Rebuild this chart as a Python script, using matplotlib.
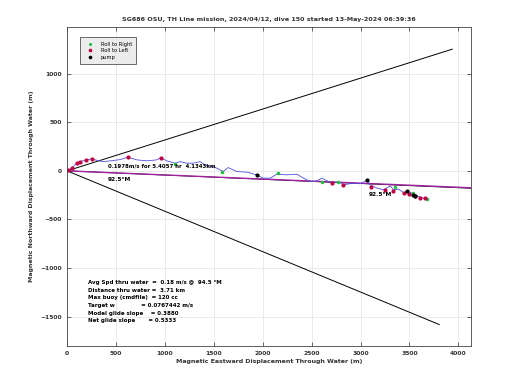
import numpy as np
import matplotlib
matplotlib.use("Agg")
import matplotlib.pyplot as plt

# track through water (m)
track_x = [3, 48, 99, 133, 194, 253, 286, 368, 470, 542, 621, 713, 815, 917, 958, 1019,
           1104, 1155, 1224, 1288, 1360, 1411, 1531, 1595, 1646, 1735, 1837, 1940, 2004,
           2076, 2144, 2246, 2349, 2416, 2485, 2553, 2604, 2672, 2723, 2774, 2825, 2927,
           2996, 3064, 3098, 3167, 3234, 3303, 3336, 3388, 3439, 3490, 3558, 3609, 3694]
track_y = [3, 28, 79, 95, 113, 123, 113, 95, 106, 116, 141, 113, 103, 113, 136, 103,
           79, 95, 79, 79, 95, 62, 28, -7, 34, -7, -13, -41, -75,
           -75, -34, -41, -34, -75, -110, -103, -75, -110, -126, -110, -144, -126,
           -133, -99, -144, -177, -195, -154, -195, -188, -223, -212, -246, -270, -297]

right_x = [1104, 1582, 2161, 2604, 2771, 3354, 3541, 3678]
right_y = [69, -7, -24, -110, -110, -167, -223, -290]
left_x = [10, 48, 99, 133, 194, 253, 621, 958, 2706, 2825, 3108, 3252, 3336, 3439, 3490, 3558, 3609, 3660]
left_y = [5, 28, 79, 95, 113, 123, 141, 136, -126, -147, -161, -195, -212, -229, -239, -263, -274, -280]
pump_x = [1940, 3064, 3473, 3541, 3558]
pump_y = [-41, -99, -212, -246, -263]

# reference lines from the origin
upper_end = (3937, 1251)
lower_end = (3804, -1580)
heading_end = (4600, -194)

title = "SG686 OSU, TH Line mission, 2024/04/12, dive 150 started 13-May-2024 06:39:36"
summary = ["Avg Spd thru water  =  0.18 m/s @  94.5 \u00b0M",
           "Distance thru water =  3.71 km",
           "Max buoy (cmdfile)  = 120 cc",
           "Target w              = 0.0767442 m/s",
           "Model glide slope    = 0.3880",
           "Net glide slope       = 0.5333"]

fig = plt.figure(figsize=(5.2, 3.9), dpi=100)
ax = fig.add_axes([0.129, 0.113, 0.777, 0.818])

ax.plot([0, upper_end[0]], [0, upper_end[1]], color="black", lw=0.7)
ax.plot([0, lower_end[0]], [0, lower_end[1]], color="black", lw=0.7)
ax.plot([0, heading_end[0]], [0, heading_end[1] * 1.03], color="black", lw=0.6)
ax.plot([0, heading_end[0]], [0, heading_end[1]], color="#a020a0", lw=1.0)

ax.plot(track_x, track_y, color="#5050e0", lw=0.6)
ax.plot(right_x, right_y, ".", color="#20c040", ms=3, label="Roll to Right")
ax.plot(left_x, left_y, ".", color="#c00040", ms=4, label="Roll to Left")
ax.plot(pump_x, pump_y, ".", color="black", ms=4, label="pump")

ax.text(420, 30, "0.1978m/s for 5.4057 hr  4.1343km", fontsize=3.9, fontweight="bold")
ax.text(420, -100, "92.5\u00b0M", fontsize=4.2, fontweight="bold")
ax.text(3080, -260, "92.5\u00b0M", fontsize=4.2, fontweight="bold")

for i, line in enumerate(summary):
    ax.text(215, -1150 - i * 78, line, fontsize=4, fontweight="bold", va="center")

ax.set_xlim(0, 4130)
ax.set_ylim(-1800, 1480)
ax.set_xticks(np.arange(0, 4001, 500))
ax.set_yticks(np.arange(-1500, 1001, 500))
ax.grid(True, color="#e6e6e6", lw=0.6)
ax.set_axisbelow(True)
ax.tick_params(direction="in", top=True, right=True, labelsize=4.3, length=3,
               width=0.5, colors="#333333")
for lab in ax.get_xticklabels() + ax.get_yticklabels():
    lab.set_fontweight("bold")
for sp in ax.spines.values():
    sp.set_linewidth(0.6)
    sp.set_color("#444444")

ax.set_xlabel("Magnetic Eastward Displacement Through Water (m)", fontsize=4.5,
              fontweight="bold", color="#333333", labelpad=2)
ax.set_ylabel("Magnetic Northward Displacement Through Water (m)", fontsize=4.5,
              fontweight="bold", color="#333333", labelpad=5)
ax.set_title(title, fontsize=4.6, fontweight="bold", color="#333333", pad=4)

leg = ax.legend(loc="upper left", bbox_to_anchor=(0.025, 0.975), fontsize=3.7,
                frameon=True, fancybox=False, handlelength=2.5, borderpad=0.8,
                labelspacing=0.3, markerscale=0.8)
leg.get_frame().set_facecolor("#e8e8e8")
leg.get_frame().set_edgecolor("black")
leg.get_frame().set_linewidth(0.5)

fig.savefig("out.png", dpi=100)
